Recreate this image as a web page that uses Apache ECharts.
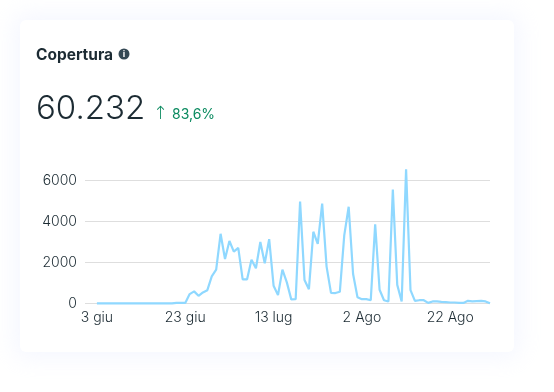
<!DOCTYPE html>
<html><head><meta charset="utf-8">
<style>
html,body{margin:0;padding:0;background:#fff;width:554px;height:392px;overflow:hidden}
#card{position:absolute;left:20px;top:20px;width:494px;height:332px;background:#fff;border-radius:6px;box-shadow:0 0 22px 6px rgba(225,230,255,.32)}
#c{position:absolute;left:0;top:0;width:554px;height:392px}
</style>
<script src="https://cdn.jsdelivr.net/npm/echarts@6/dist/echarts.min.js"></script>
</head><body><div id="card"></div><div id="c"></div>
<script>
const title = 'Copertura';
const total = '60.232';
const change = '83,6%';
const tickDays = [0, 20, 40, 60, 80];
const tickLabels = ['3 giu', '23 giu', '13 lug', '2 Ago', '22 Ago'];
const yTicks = [0, 2000, 4000, 6000];
const values = [
 5,5,5,5,5,5,5,5,5,5,5,5,5,5,5,5,5,5,30,30,
 30,460,590,376,540,650,1320,1650,3400,2170,3050,2530,2710,1180,1180,2140,1720,3000,1960,3140,
 870,410,1650,1030,200,210,4970,1150,700,3500,2910,4870,1800,520,510,570,3320,4720,1440,300,
 210,210,160,3860,670,160,100,5560,910,100,6550,650,130,160,160,30,100,100,80,70,
 50,50,30,30,130,100,120,130,100,10
];
const chart = echarts.init(document.getElementById('c'), null, {renderer:'canvas', width:554, height:392});
chart.setOption({
  animation:false,
  backgroundColor:'transparent',
  grid:{left:85, right:64, top:180.5, bottom:88.5},
  xAxis:{type:'value', min:-2.7, max:89,
    axisLine:{show:false}, axisTick:{show:false}, splitLine:{show:false},
    axisLabel:{customValues:tickDays, formatter:v=>tickLabels[tickDays.indexOf(v)], color:'#1c2b33', fontFamily:'Inter', fontWeight:300, fontSize:14, margin:7, showMinLabel:true, showMaxLabel:true}},
  yAxis:{type:'value', min:0, max:6000, interval:2000,
    axisLine:{show:false}, axisTick:{show:false},
    splitLine:{lineStyle:{color:'#dedede', width:1}},
    axisLabel:{formatter:v=>String(v), color:'#1c2b33', fontFamily:'Inter', fontWeight:300, fontSize:14, margin:8}},
  series:[{type:'line', data:values.map((v,i)=>[i,v]), showSymbol:false, clip:false,
    lineStyle:{color:'#8fd8ff', width:2.2}, itemStyle:{color:'#8fd8ff'}}],
  graphic:[
    {type:'text', left:36, top:47, style:{text:title, font:'700 15.5px Inter', fill:'#1c2b33'}},
    {type:'circle', shape:{cx:124, cy:54, r:5.5}, style:{fill:'#344854'}},
    {type:'text', x:124, y:54, style:{text:'i', font:'700 9px Inter', fill:'#fff', align:'center', verticalAlign:'middle'}},
    {type:'text', left:36, top:93, style:{text:total, font:'300 33px Inter', fill:'#1c2b33'}},
    {type:'text', left:153, top:105, style:{text:'↑', font:'300 18px "DejaVu Sans"', fill:'#0a8a5f'}},
    {type:'text', left:172, top:108, style:{text:change, font:'400 14px Inter', fill:'#0a8a5f'}}
  ]
});
</script></body></html>
